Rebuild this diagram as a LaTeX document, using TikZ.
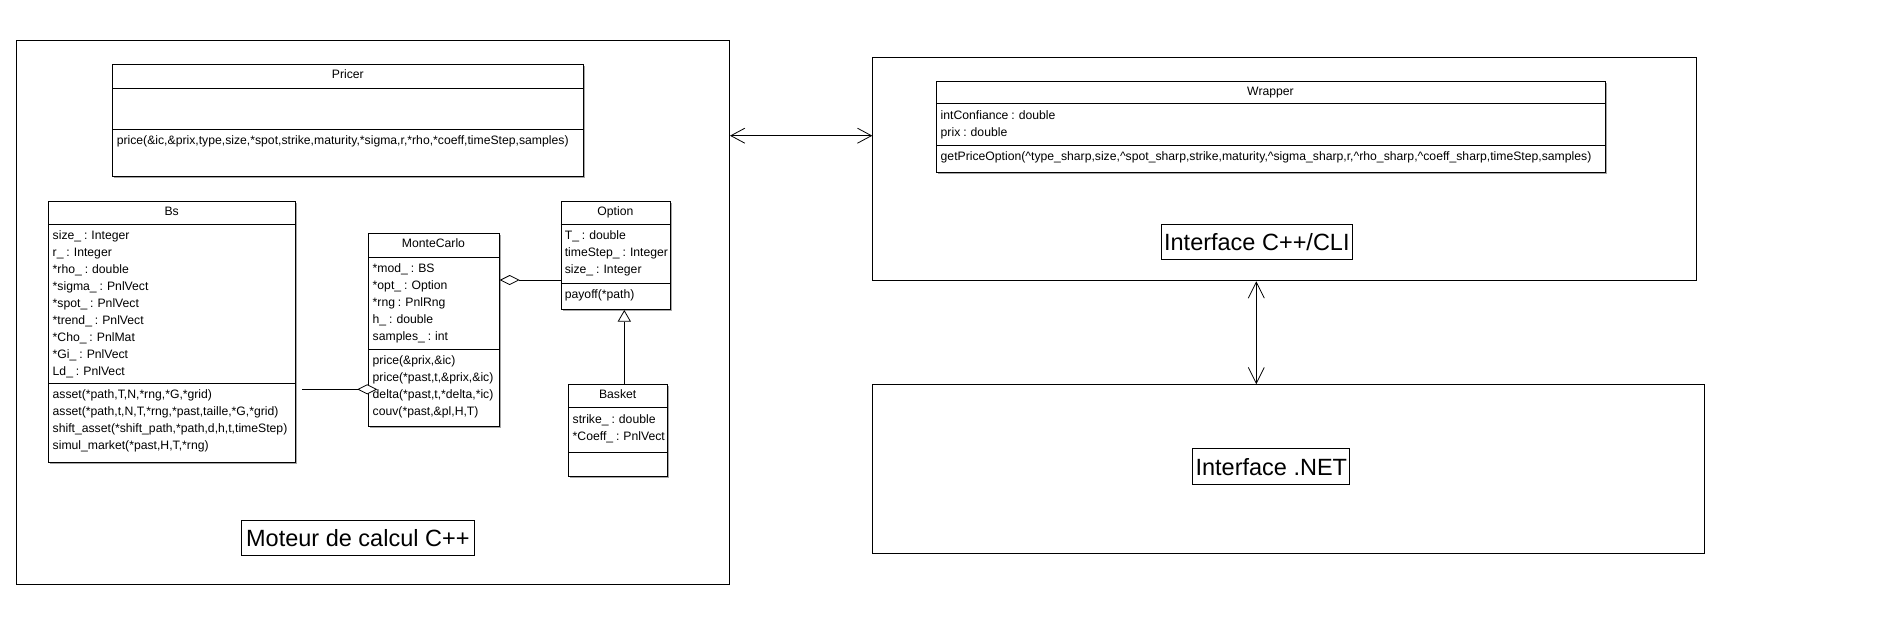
\documentclass[tikz,border=0pt]{standalone}
\usepackage{fontspec}
\setmainfont{Liberation Sans}
\usetikzlibrary{arrows.meta,shadows}
\newcommand\umlfont{\fontsize{12.2}{17}\selectfont\spaceskip=2.9pt\relax}
\newcommand\lblfont{\fontsize{23.5}{28}\selectfont}
\newcommand\umlrows[4]{%
  \foreach \t [count=\i from 0] in {#4}
    \node[umltxt] (#1-\i) at (#2,{#3+17*\i}) {\t};}
\begin{document}
\begin{tikzpicture}[x=1pt,y=-1pt,
  umlbox/.style={draw, fill=white, line width=1pt, inner sep=0pt, anchor=north west,
    drop shadow={shadow xshift=1.5pt, shadow yshift=-1.5pt, fill=black!35, opacity=1}},
  umlline/.style={line width=1pt},
  umltxt/.style={font=\umlfont, inner sep=0pt, anchor=base west},
  umlhead/.style={font=\umlfont, inner sep=0pt, anchor=base},
  container/.style={draw, line width=1pt, inner sep=0pt, anchor=north west},
  biglabel/.style={draw, line width=1pt, font=\lblfont, inner sep=0pt, anchor=north west,
    text height=17pt, text depth=0pt},
  assoc/.style={line width=1pt, {Straight Barb[length=14pt,width=15pt,line width=0.8pt]}-{Straight Barb[length=14pt,width=15pt,line width=0.8pt]}},
  vassoc/.style={line width=1pt, {Straight Barb[length=16pt,width=16pt,line width=0.8pt]}-{Straight Barb[length=16pt,width=16pt,line width=0.8pt]}},
  aggr/.style={line width=1pt, -{Diamond[length=20pt,width=10pt,line width=0.8pt,fill=white]}},
  gener/.style={line width=1pt, -{Triangle[length=11.7pt,width=13.3pt,line width=0.8pt,fill=white]}}
]
\useasboundingbox (0,0) rectangle (1886,624);

% containers
\node[container, minimum width=712.8pt, minimum height=544pt] (left) at (16.2,40.3) {};
\node[container, minimum width=824pt, minimum height=223.6pt] (rtop) at (872.3,56.7) {};
\node[container, minimum width=832pt, minimum height=169pt] (rbot) at (872.3,384.3) {};

% labels
\node[biglabel, minimum width=233.3pt, minimum height=34.7pt] (moteur) at (240.7,520.3) {Moteur de calcul C++};
\node[biglabel, minimum width=191.3pt, minimum height=35.3pt] (cli) at (1160.7,224) {Interface C++/CLI};
\node[biglabel, minimum width=157pt, minimum height=35.4pt] (net) at (1192.3,448.3) {Interface .NET};

% Pricer
\node[umlbox, minimum width=470.9pt, minimum height=112pt] (pricer) at (112.4,64.3) {};
\draw[umlline] ([yshift=-24pt]pricer.north west) -- ([yshift=-24pt]pricer.north east);
\draw[umlline] ([yshift=-65pt]pricer.north west) -- ([yshift=-65pt]pricer.north east);
\node[umlhead] (pricer-h) at (347.85,78.6) {Pricer};
\umlrows{pricer-m}{116.6}{144.7}{{price(\&ic,\&prix,type,size,*spot,strike,maturity,*sigma,r,*rho,*coeff,timeStep,samples)}}

% Bs
\node[umlbox, minimum width=246.7pt, minimum height=261pt] (bs) at (48.3,200.7) {};
\draw[umlline] ([yshift=-23.3pt]bs.north west) -- ([yshift=-23.3pt]bs.north east);
\draw[umlline] ([yshift=-182.6pt]bs.north west) -- ([yshift=-182.6pt]bs.north east);
\node[umlhead] (bs-h) at (171.65,215) {Bs};
\umlrows{bs-a}{52.5}{239.3}{{size\_ : Integer},{r\_ : Integer},{*rho\_ : double},{*sigma\_ : PnlVect},{*spot\_ : PnlVect},{*trend\_ : PnlVect},{*Cho\_ : PnlMat},{*Gi\_ : PnlVect},{Ld\_ : PnlVect}}
\umlrows{bs-m}{52.5}{398.6}{{asset(*path,T,N,*rng,*G,*grid)},{asset(*path,t,N,T,*rng,*past,taille,*G,*grid)},{shift\_asset(*shift\_path,*path,d,h,t,timeStep)},{simul\_market(*past,H,T,*rng)}}

% MonteCarlo
\node[umlbox, minimum width=130.4pt, minimum height=193.3pt] (mc) at (368.3,232.7) {};
\draw[umlline] ([yshift=-24.3pt]mc.north west) -- ([yshift=-24.3pt]mc.north east);
\draw[umlline] ([yshift=-116.6pt]mc.north west) -- ([yshift=-116.6pt]mc.north east);
\node[umlhead] (mc-h) at (433.5,247) {MonteCarlo};
\umlrows{mc-a}{372.5}{272.3}{{*mod\_ : BS},{*opt\_ : Option},{*rng : PnlRng},{h\_ : double},{samples\_ : int}}
\umlrows{mc-m}{372.5}{364.6}{{price(\&prix,\&ic)},{price(*past,t,\&prix,\&ic)},{delta(*past,t,*delta,*ic)},{couv(*past,\&pl,H,T)}}

% Option
\node[umlbox, minimum width=109.3pt, minimum height=108.3pt] (option) at (560.7,200.7) {};
\draw[umlline] ([yshift=-23.6pt]option.north west) -- ([yshift=-23.6pt]option.north east);
\draw[umlline] ([yshift=-82.6pt]option.north west) -- ([yshift=-82.6pt]option.north east);
\node[umlhead] (option-h) at (615.35,215) {Option};
\umlrows{option-a}{564.6}{239.6}{{T\_ : double},{timeStep\_ : Integer},{size\_ : Integer}}
\umlrows{option-m}{564.6}{298.6}{{payoff(*path)}}

% Basket
\node[umlbox, minimum width=98.7pt, minimum height=91.7pt] (basket) at (568.3,384.3) {};
\draw[umlline] ([yshift=-23.4pt]basket.north west) -- ([yshift=-23.4pt]basket.north east);
\draw[umlline] ([yshift=-68pt]basket.north west) -- ([yshift=-68pt]basket.north east);
\node[umlhead] (basket-h) at (617.65,398.6) {Basket};
\umlrows{basket-a}{572.5}{423}{{strike\_ : double},{*Coeff\_ : PnlVect}}

% Wrapper
\node[umlbox, minimum width=669pt, minimum height=91pt] (wrapper) at (936,80.7) {};
\draw[umlline] ([yshift=-23pt]wrapper.north west) -- ([yshift=-23pt]wrapper.north east);
\draw[umlline] ([yshift=-64.3pt]wrapper.north west) -- ([yshift=-64.3pt]wrapper.north east);
\node[umlhead] (wrapper-h) at (1270.5,95) {Wrapper};
\umlrows{wrapper-a}{940.5}{119}{{intConfiance : double},{prix : double}}
\umlrows{wrapper-m}{940.5}{160.3}{{getPriceOption(\textasciicircum type\_sharp,size,\textasciicircum spot\_sharp,strike,maturity,\textasciicircum sigma\_sharp,r,\textasciicircum rho\_sharp,\textasciicircum coeff\_sharp,timeStep,samples)}}

% connector helpers
\coordinate (hy) at (0,135.7);
\coordinate (vx) at (1256.3,0);
\coordinate (ay) at (0,280);
\coordinate (by) at (0,389.3);
\coordinate (gx) at (624.3,0);

% connectors
\draw[assoc] (left.east |- hy) -- (rtop.west |- hy);
\draw[vassoc] (rtop.south -| vx) -- (rbot.north -| vx);
\draw[aggr] (option.west |- ay) -- (mc.east |- ay);
\draw[aggr] ([xshift=6pt]bs.east |- by) -- ([xshift=9pt]mc.west |- by);
\draw[gener] (basket.north -| gx) -- (option.south -| gx);
\end{tikzpicture}
\end{document}
